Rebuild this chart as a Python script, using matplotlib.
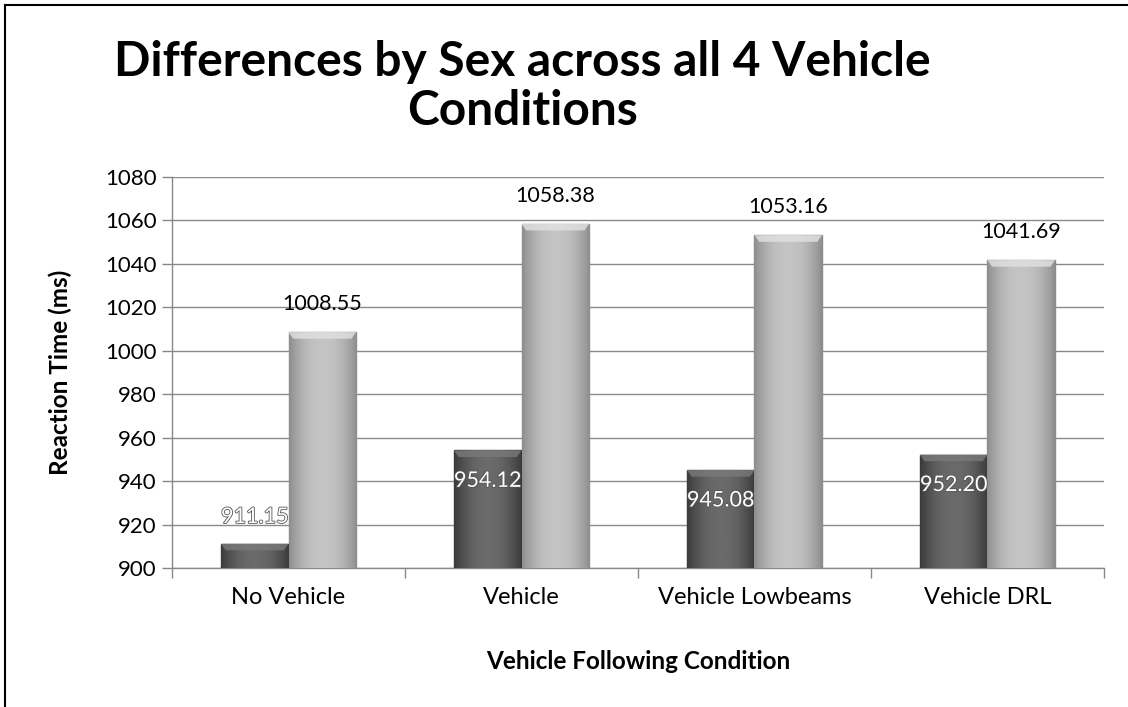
import numpy as np
import matplotlib
matplotlib.use("Agg")
import matplotlib.pyplot as plt
from matplotlib.patches import Polygon
import matplotlib.patheffects as pe

plt.rcParams['font.family'] = ['Lato', 'DejaVu Sans']

categories = ["No Vehicle", "Vehicle", "Vehicle Lowbeams", "Vehicle DRL"]
male = [911.15, 954.12, 945.08, 952.20]
female = [1008.55, 1058.38, 1053.16, 1041.69]

fig = plt.figure(figsize=(11.28, 7.07), dpi=100)
ax = fig.add_axes([0.1525, 0.1966, 0.8262, 0.5531])

x = np.arange(len(categories))
w = 0.29
ymin = 900


def shade_bars(bars, dark, light, top):
    # horizontal gradient: darker at the edges, lighter in the middle
    t = np.linspace(-1, 1, 64)
    prof = 1 - np.abs(t) ** 2.2
    grad = np.outer(np.ones(2), prof)
    cmap = matplotlib.colors.LinearSegmentedColormap.from_list("g", [dark, light])
    for b in bars:
        x0, y0 = b.get_x(), b.get_y()
        bw, bh = b.get_width(), b.get_height()
        im = ax.imshow(grad, extent=[x0, x0 + bw, y0, y0 + bh], cmap=cmap,
                       aspect="auto", zorder=3, vmin=0, vmax=1)
        im.set_clip_path(b)
        # bevelled top
        d = 0.02
        h = min(3.0, bh)
        cap = Polygon([(x0, y0 + bh), (x0 + bw, y0 + bh),
                       (x0 + bw - d, y0 + bh - h), (x0 + d, y0 + bh - h)],
                      closed=True, facecolor=top, edgecolor="none",
                      alpha=0.8, zorder=4)
        ax.add_patch(cap)


b1 = ax.bar(x - w / 2, np.array(male) - ymin, w, bottom=ymin, color="#555555",
            edgecolor="#3c3c3c", linewidth=1, zorder=3)
b2 = ax.bar(x + w / 2, np.array(female) - ymin, w, bottom=ymin, color="#b0b0b0",
            edgecolor="#8a8a8a", linewidth=1, zorder=3)
shade_bars(b1, "#3a3a3a", "#6a6a6a", "#7a7a7a")
shade_bars(b2, "#8e8e8e", "#c4c4c4", "#e2e2e2")

shadow = [pe.withStroke(linewidth=1.2, foreground="#555555")]
for xi, v in zip(x, male):
    yl = v - 14 if v - 14 > 925 else 923.5
    ax.text(xi - w / 2, yl, f"{v:.2f}", ha="center", va="center",
            color="white", fontsize=15.5, zorder=6, path_effects=shadow)
for xi, v in zip(x, female):
    ax.annotate(f"{v:.2f}", (xi + w / 2, v), xytext=(0, 20),
                textcoords="offset points", ha="center", va="center",
                color="black", fontsize=15.5, zorder=6)

ax.set_xlim(-0.5, len(categories) - 0.5)
ax.set_ylim(900, 1080)
ax.set_yticks(np.arange(900, 1081, 20))
ax.set_xticks(x)
ax.set_xticklabels(categories, fontsize=17)
ax.set_xticks(np.arange(-0.5, len(categories)), minor=True)
ax.tick_params(axis="x", which="major", length=0, pad=14)
ax.tick_params(axis="x", which="minor", length=7, color="#888888", width=1)
ax.tick_params(axis="y", length=7, color="#888888", width=1, labelsize=16, pad=4)
ax.grid(axis="y", color="#8a8a8a", linewidth=1, zorder=0)
ax.set_axisbelow(True)
for s in ["top", "right"]:
    ax.spines[s].set_visible(False)
for s in ["left", "bottom"]:
    ax.spines[s].set_color("#888888")
    ax.spines[s].set_linewidth(1)

ax.set_ylabel("Reaction Time (ms)", fontsize=17.5, fontweight="bold", labelpad=24)
ax.set_xlabel("Vehicle Following Condition", fontsize=17.5, fontweight="bold", labelpad=30)

fig.text(0.463, 0.878, "Differences by Sex across all 4 Vehicle\nConditions",
         ha="center", va="center", fontsize=34.5, fontweight="bold",
         linespacing=1.15)

# chart frame: only left and top edges are visible in the crop
fig.add_artist(plt.Line2D([0.0045, 0.0045], [0, 0.993], transform=fig.transFigure,
                          color="black", linewidth=1.5))
fig.add_artist(plt.Line2D([0.0045, 1], [0.993, 0.993], transform=fig.transFigure,
                          color="black", linewidth=1.5))

fig.savefig("out.png", dpi=100)
